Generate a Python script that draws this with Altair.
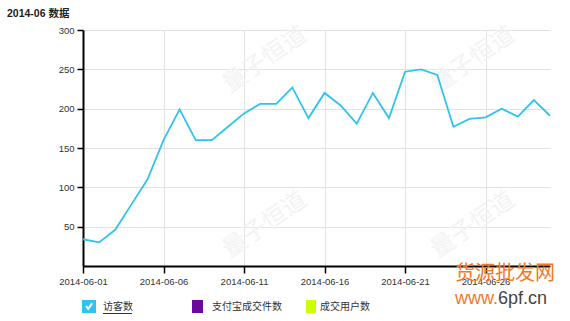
import altair as alt
import pandas as pd

# Daily visitor counts for June 2014
dates = [f"2014-06-{d:02d}" for d in range(1, 31)]
visitors = [34, 30, 46, 78, 110, 160, 199, 160, 160, 177,
            194, 206, 206, 227, 188, 220, 204, 181, 220, 188,
            247, 250, 243, 177, 187, 189, 200, 190, 211, 191]

y_ticks = [50, 100, 150, 200, 250, 300]
x_tick_days = [1, 6, 11, 16, 21, 26]

series_names = ["访客数", "支付宝成交件数", "成交用户数"]
series_colors = ["#2ec4ef", "#6a0a9c", "#ccff00"]

chart_title = "2014-06 数据"
wm_text = "量子恒道"
brand_top = "货源批发网"
brand_bottom_a = "www."
brand_bottom_b = "6pf.cn"

LATIN = "'Liberation Sans', 'Noto Sans CJK SC', sans-serif"
CJK = "'Noto Sans CJK SC', 'Liberation Sans', sans-serif"

W, H = 467, 236
PAD = {"left": 83, "top": 30, "right": 20, "bottom": 55}

df = pd.DataFrame({"date": dates, "visitors": visitors})

axis_style = dict(
    title=None,
    tickWidth=1.5,
    tickColor="#000",
    domainColor="#000",
    domainWidth=2,
    labelFontSize=9.5,
    labelColor="#333",
    labelFont=LATIN,
    labelFlush=False,
    gridColor="#e2e2e2",
    gridWidth=1,
)

x_enc = alt.X(
    "date:T",
    scale=alt.Scale(
        type="utc",
        domain=[alt.DateTime(year=2014, month=6, date=1, utc=True),
                alt.DateTime(year=2014, month=6, date=30, utc=True)],
        nice=False,
    ),
    axis=alt.Axis(
        values=[alt.DateTime(year=2014, month=6, date=d, utc=True) for d in x_tick_days],
        format="%Y-%m-%d",
        tickSize=7,
        labelPadding=3,
        **axis_style,
    ),
)
y_enc = alt.Y(
    "visitors:Q",
    scale=alt.Scale(domain=[0, 300], nice=False),
    axis=alt.Axis(
        values=y_ticks,
        tickSize=6,
        labelPadding=3,
        **axis_style,
    ),
)

# Faint diagonal watermark stamps inside the plot
wm_df = pd.DataFrame({
    "px": [182, 390, 182, 390],
    "py": [30, 30, 195, 195],
    "t": [wm_text] * 4,
})
watermarks = alt.Chart(wm_df).mark_text(
    font=CJK, fontSize=24, angle=325, color="#f3f3f3"
).encode(
    x=alt.X("px:Q", scale=None), y=alt.Y("py:Q", scale=None), text="t:N"
)

line = alt.Chart(df).mark_line(
    color=series_colors[0], strokeWidth=1.8, interpolate="linear"
).encode(x=x_enc, y=y_enc)


def text_layer(label, x, y, **kw):
    return alt.Chart(pd.DataFrame({"t": [label]})).mark_text(
        align="left", baseline="middle", **kw
    ).encode(text="t:N", x=alt.value(x), y=alt.value(y))


def box(x1, x2, y1, y2, color):
    return alt.Chart(pd.DataFrame({"k": [0]})).mark_rect(color=color).encode(
        x=alt.value(x1), x2=alt.value(x2), y=alt.value(y1), y2=alt.value(y2)
    )


title = text_layer(chart_title, -76, -16, font=LATIN, fontSize=10.5,
                   fontWeight="bold", color="#222")

# Legend row: checkbox for the active series, swatches for the others
check_box = box(-1, 13, 270, 283, series_colors[0])
check_mark = alt.Chart(pd.DataFrame({"k": [0]})).mark_point(
    shape="M -0.55 -0.05 L -0.15 0.45 L 0.6 -0.6",
    filled=False, stroke="white", strokeWidth=2, size=110, opacity=1,
).encode(x=alt.value(6), y=alt.value(276.5))
lbl0 = text_layer(series_names[0], 20, 276.5, font=CJK, fontSize=10, color="#333")
underline = alt.Chart(pd.DataFrame({"k": [0]})).mark_rule(
    color="#333", strokeWidth=1
).encode(x=alt.value(20), x2=alt.value(49), y=alt.value(283.5))
sw1 = box(109, 120, 270, 283, series_colors[1])
lbl1 = text_layer(series_names[1], 129, 276.5, font=CJK, fontSize=10, color="#333")
sw2 = box(223, 233, 270, 283, series_colors[2])
lbl2 = text_layer(series_names[2], 237, 276.5, font=CJK, fontSize=10, color="#333")

# Site stamp in the lower right corner
brand1 = text_layer(brand_top, 372, 244, font=CJK, fontSize=20, color="#f07a2a")
brand2 = text_layer(brand_bottom_a, 372, 269, font=LATIN, fontSize=18, color="#f07a2a")
brand3 = text_layer(brand_bottom_b, 415, 269, font=LATIN, fontSize=18, color="#444")

chart = alt.layer(
    watermarks, line, title,
    check_box, check_mark, lbl0, underline, sw1, lbl1, sw2, lbl2,
    brand1, brand2, brand3,
).properties(
    width=W, height=H,
    autosize=alt.AutoSizeParams(type="none"),
    padding=PAD,
    background="white",
).configure_view(stroke=None)

chart.save("out.html", embed_options={"renderer": "svg", "actions": False})
